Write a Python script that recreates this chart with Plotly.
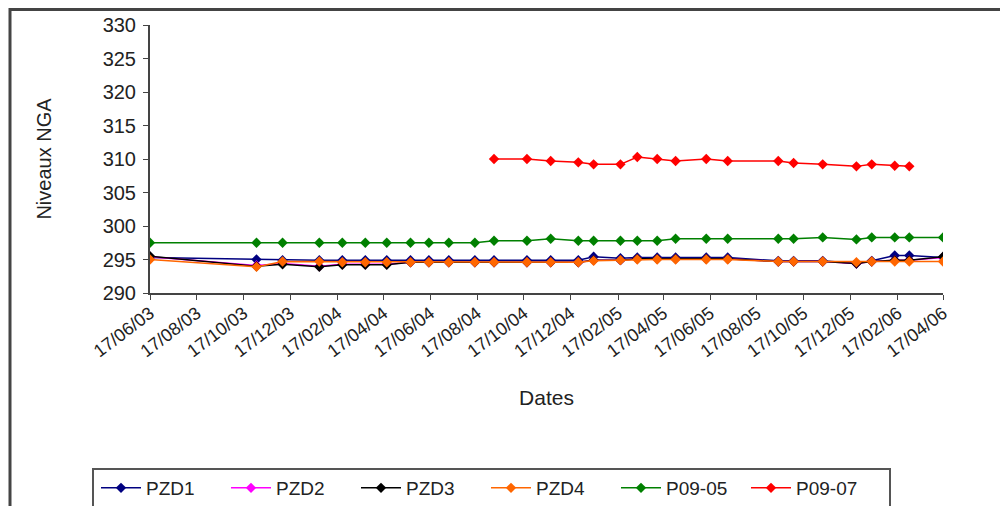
import plotly.graph_objects as go

dates = ["2003-06-17", "2003-11-03", "2003-12-07", "2004-01-24", "2004-02-23", "2004-03-24",
         "2004-04-21", "2004-05-22", "2004-06-15", "2004-07-11", "2004-08-14", "2004-09-08",
         "2004-10-21", "2004-11-21", "2004-12-27", "2005-01-16", "2005-02-20", "2005-03-14",
         "2005-04-09", "2005-05-03", "2005-06-12", "2005-07-10", "2005-09-14", "2005-10-04",
         "2005-11-11", "2005-12-25", "2006-01-14", "2006-02-13", "2006-03-04", "2006-04-17"]
dates_p0907 = dates[11:29]

pzd1 = [295.3, 295.0, 294.9, 294.9, 294.9, 294.9, 294.9, 294.9, 294.9, 294.9, 294.9, 294.9,
        294.9, 294.9, 294.9, 295.4, 295.2, 295.3, 295.3, 295.3, 295.3, 295.3, 294.8, 294.8,
        294.8, 294.4, 294.8, 295.6, 295.6, 295.3]
pzd2 = [295.4, 294.1, 294.4, 294.0, 294.3, 294.3, 294.3, 294.6, 294.6, 294.6, 294.6, 294.6,
        294.6, 294.6, 294.6, 294.9, 294.9, 295.1, 295.1, 295.1, 295.1, 295.1, 294.7, 294.7,
        294.7, 294.4, 294.7, 294.9, 294.9, 295.3]
pzd3 = [295.5, 294.0, 294.3, 293.9, 294.2, 294.2, 294.2, 294.6, 294.6, 294.6, 294.6, 294.6,
        294.6, 294.6, 294.6, 294.9, 294.9, 295.1, 295.1, 295.1, 295.1, 295.1, 294.7, 294.7,
        294.7, 294.4, 294.7, 294.9, 294.9, 295.4]
pzd4 = [295.0, 293.9, 294.7, 294.7, 294.6, 294.6, 294.6, 294.6, 294.6, 294.6, 294.6, 294.6,
        294.6, 294.6, 294.6, 294.8, 294.9, 295.0, 295.0, 295.0, 295.0, 295.0, 294.7, 294.7,
        294.7, 294.6, 294.7, 294.7, 294.7, 294.7]
p0905 = [297.5, 297.5, 297.5, 297.5, 297.5, 297.5, 297.5, 297.5, 297.5, 297.5, 297.5, 297.8,
         297.8, 298.1, 297.8, 297.8, 297.8, 297.8, 297.8, 298.1, 298.1, 298.1, 298.1, 298.1,
         298.3, 298.0, 298.3, 298.3, 298.3, 298.3]
p0907 = [310.0, 310.0, 309.7, 309.5, 309.2, 309.2, 310.3, 310.0, 309.7, 310.0, 309.7, 309.7,
         309.4, 309.2, 308.9, 309.2, 309.0, 308.9]

tick_dates = ["2003-06-17", "2003-08-17", "2003-10-17", "2003-12-17", "2004-02-17", "2004-04-17",
              "2004-06-17", "2004-08-17", "2004-10-17", "2004-12-17", "2005-02-17", "2005-04-17",
              "2005-06-17", "2005-08-17", "2005-10-17", "2005-12-17", "2006-02-17", "2006-04-17"]
tick_labels = ["17/06/03", "17/08/03", "17/10/03", "17/12/03", "17/02/04", "17/04/04",
               "17/06/04", "17/08/04", "17/10/04", "17/12/04", "17/02/05", "17/04/05",
               "17/06/05", "17/08/05", "17/10/05", "17/12/05", "17/02/06", "17/04/06"]

series = [
    ("PZD1", dates, pzd1, "#000080"),
    ("PZD2", dates, pzd2, "#FF00FF"),
    ("PZD3", dates, pzd3, "#000000"),
    ("PZD4", dates, pzd4, "#FF6600"),
    ("P09-05", dates, p0905, "#008000"),
    ("P09-07", dates_p0907, p0907, "#FF0000"),
]

fig = go.Figure()
for name, x, y, c in series:
    fig.add_trace(go.Scatter(x=x, y=y, name=name, mode="lines+markers",
                             line=dict(color=c, width=1.5),
                             marker=dict(symbol="diamond", size=8, color=c)))

font_fam = "Liberation Sans, Arial, sans-serif"
OFF = 8  # page body margin
W, H = 1000, 498
L, R, T, B = 150 - OFF, 65, 25 - OFF, 213
pw, ph = W - L - R, H - T - B


def px_x(v):
    return (v - OFF - L) / pw


def px_y(v):
    return (H - B - (v - OFF)) / ph


fig.update_layout(
    width=W, height=H,
    margin=dict(l=L, r=R, t=T, b=B, autoexpand=False),
    paper_bgcolor="white", plot_bgcolor="white",
    font=dict(family=font_fam, color="#222222"),
    showlegend=True,
    legend=dict(orientation="h", xref="container", yref="container",
                x=(96 - OFF) / W, xanchor="left", y=1 - (488 - OFF) / H, yanchor="middle",
                font=dict(size=19, color="#222222"), bgcolor="rgba(0,0,0,0)",
                entrywidth=75, entrywidthmode="pixels", itemwidth=40, traceorder="normal"),
    xaxis=dict(type="date", range=["2003-06-17", "2006-04-17"], tickmode="array",
               tickvals=tick_dates, ticktext=tick_labels, tickangle=-37,
               tickfont=dict(size=18, color="#222222"), ticks="outside", ticklen=5,
               ticklabelstandoff=-4,
               tickcolor="#444444", showline=True, linecolor="#444444", linewidth=2,
               showgrid=False, zeroline=False, automargin=False,
               title=dict(text="Dates", font=dict(size=21, color="#222222"), standoff=30)),
    yaxis=dict(range=[290, 330], tickmode="array", tickvals=list(range(290, 331, 5)),
               tickfont=dict(size=20, color="#222222"), ticks="outside", ticklen=5,
               ticklabelstandoff=3,
               tickcolor="#444444", showline=True, linecolor="#444444", linewidth=2,
               showgrid=False, zeroline=False, automargin=False,
               title=dict(text="Niveaux NGA", font=dict(size=20, color="#222222"), standoff=46)),
    shapes=[
        dict(type="rect", xref="paper", yref="paper", x0=px_x(10), x1=px_x(1030),
             y0=px_y(530), y1=px_y(9.5), line=dict(color="#444444", width=3), layer="below"),
        dict(type="rect", xref="paper", yref="paper", x0=px_x(93), x1=px_x(890),
             y0=px_y(530), y1=px_y(469), line=dict(color="#555555", width=2), layer="below"),
    ],
)

fig.write_html("out.html")
